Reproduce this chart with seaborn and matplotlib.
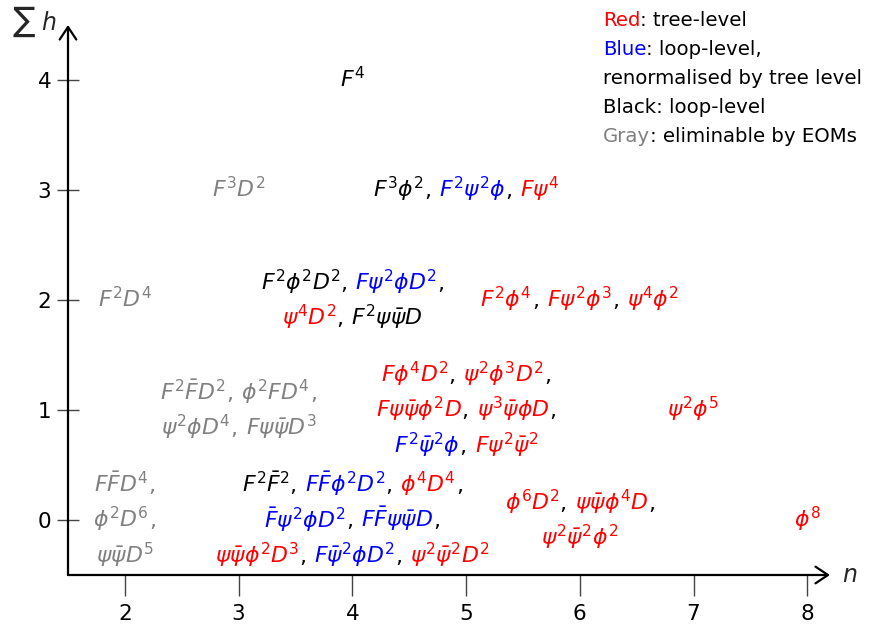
import matplotlib
matplotlib.use('Agg')
import matplotlib.pyplot as plt
import matplotlib.transforms as mtransforms
import seaborn as sns

# axis ticks
n_ticks = [2, 3, 4, 5, 6, 7, 8]
h_ticks = [0, 1, 2, 3, 4]

# grid position (n, sum h) of each group of operators
op_n = [4, 3, 5, 2, 4, 6, 3, 5, 7, 2, 4, 6, 8]
op_h = [4, 3, 3, 2, 2, 2, 1, 1, 1, 0, 0, 0, 0]

# operators of each group, line by line: (tex, class)
# r = tree-level, b = loop-level renormalised by tree level,
# k = loop-level, g = eliminable by EOMs
op_lines = [
    [[(r'F^4', 'k')]],
    [[(r'F^3D^2', 'g')]],
    [[(r'F^3\phi^2', 'k'), (r'F^2\psi^2\phi', 'b'), (r'F\psi^4', 'r')]],
    [[(r'F^2D^4', 'g')]],
    [[(r'F^2\phi^2D^2', 'k'), (r'F\psi^2\phi D^2', 'b')],
     [(r'\psi^4D^2', 'r'), (r'F^2\psi\bar{\psi}D', 'k')]],
    [[(r'F^2\phi^4', 'r'), (r'F\psi^2\phi^3', 'r'), (r'\psi^4\phi^2', 'r')]],
    [[(r'F^2\bar{F}D^2', 'g'), (r'\phi^2FD^4', 'g')],
     [(r'\psi^2\phi D^4', 'g'), (r'F\psi\bar{\psi}D^3', 'g')]],
    [[(r'F\phi^4D^2', 'r'), (r'\psi^2\phi^3D^2', 'r')],
     [(r'F\psi\bar{\psi}\phi^2D', 'r'), (r'\psi^3\bar{\psi}\phi D', 'r')],
     [(r'F^2\bar{\psi}^2\phi', 'b'), (r'F\psi^2\bar{\psi}^2', 'r')]],
    [[(r'\psi^2\phi^5', 'r')]],
    [[(r'F\bar{F}D^4', 'g')], [(r'\phi^2D^6', 'g')], [(r'\psi\bar{\psi}D^5', 'g')]],
    [[(r'F^2\bar{F}^2', 'k'), (r'F\bar{F}\phi^2D^2', 'b'), (r'\phi^4D^4', 'r')],
     [(r'\bar{F}\psi^2\phi D^2', 'b'), (r'F\bar{F}\psi\bar{\psi}D', 'b')],
     [(r'\psi\bar{\psi}\phi^2D^3', 'r'), (r'F\bar{\psi}^2\phi D^2', 'b'), (r'\psi^2\bar{\psi}^2D^2', 'r')]],
    [[(r'\phi^6D^2', 'r'), (r'\psi\bar{\psi}\phi^4D', 'r')],
     [(r'\psi^2\bar{\psi}^2\phi^2', 'r')]],
    [[(r'\phi^8', 'r')]],
]

legend_lines = [
    [('Red', 'r'), (': tree-level', 'k')],
    [('Blue', 'b'), (': loop-level,', 'k')],
    [('renormalised by tree level', 'k')],
    [('Black: loop-level', 'k')],
    [('Gray', 'g'), (': eliminable by EOMs', 'k')],
]

palette = {'r': '#ff0000', 'b': '#0000ff', 'k': '#000000', 'g': '#808080'}

W, H, DPI = 876, 628, 100
FS_MATH = 15.8
FS_LEGEND = 14.2
LINE_STEP = 0.322   # data units between lines of one group
BASE_DROP = 0.068   # baseline below the visual centre
COMMA_GAP = 8       # px after each comma

sns.set_theme(style='white')
plt.rcParams['font.family'] = ['DejaVu Sans']
plt.rcParams['mathtext.fontset'] = 'dejavusans'

fig = plt.figure(figsize=(W / DPI, H / DPI), dpi=DPI)
ax = fig.add_axes([68 / W, 53 / H, (830 - 68) / W, (575 - 25) / H])
ax.set_xlim(1.5, 8.2)
ax.set_ylim(-0.5, 4.5)
for s in ax.spines.values():
    s.set_visible(False)

ax.set_xticks(n_ticks)
ax.set_yticks(h_ticks)
ax.set_xticklabels([str(v) for v in n_ticks])
ax.set_yticklabels([str(v) for v in h_ticks])
ax.tick_params(axis='x', direction='out', length=15, width=1, color='#444444',
               pad=6, labelsize=15.5, labelcolor='black', bottom=True)
ax.tick_params(axis='y', direction='inout', length=16, width=1, color='#444444',
               pad=4, labelsize=15.5, labelcolor='black', left=True)

arrow = dict(arrowstyle='->,head_length=0.45,head_width=0.3', lw=1.6, color='black',
             shrinkA=0, shrinkB=0, mutation_scale=20)
ax.annotate('', xy=(1, 0), xytext=(0, 0), xycoords='axes fraction', arrowprops=arrow)
ax.annotate('', xy=(0, 1), xytext=(0, 0), xycoords='axes fraction', arrowprops=arrow)

ax.text(1.0, 0, r'$n$', transform=ax.transAxes + mtransforms.ScaledTranslation(
    12 / DPI, 0, fig.dpi_scale_trans), fontsize=17, va='center', ha='left')
fig.text(36 / W, 1 - 31 / H, r'$\sum$', fontsize=17, ha='right', va='baseline')
fig.text(41 / W, 1 - 30 / H, r'$h$', fontsize=17, ha='left', va='baseline')

renderer = fig.canvas.get_renderer()


def draw_pieces(x, y, pieces, transform, fs, align='center'):
    texts, widths, gaps = [], [], []
    for s, c in pieces:
        t = ax.text(x, y, s, color=palette[c], fontsize=fs, ha='left', va='baseline',
                    transform=transform, clip_on=False)
        texts.append(t)
        widths.append(t.get_window_extent(renderer).width)
        gaps.append(COMMA_GAP if s == ',' else 0)
    total = sum(widths) + sum(gaps[:-1])
    off = -total / 2 if align == 'center' else 0
    for t, w, g in zip(texts, widths, gaps):
        t.set_transform(transform + mtransforms.ScaledTranslation(off / DPI, 0, fig.dpi_scale_trans))
        off += w + g


for n, h, lines in zip(op_n, op_h, op_lines):
    all_gray = all(c == 'g' for line in lines for _, c in line)
    comma_c = 'g' if all_gray else 'k'
    nl = len(lines)
    for i, line in enumerate(lines):
        pieces = []
        for j, (tex, c) in enumerate(line):
            pieces.append(('$' + tex + '$', c))
            if j < len(line) - 1 or i < nl - 1:
                pieces.append((',', comma_c))
        y = h + (nl - 1) / 2 * LINE_STEP - i * LINE_STEP - BASE_DROP
        draw_pieces(n, y, pieces, ax.transData, FS_MATH)

for i, line in enumerate(legend_lines):
    draw_pieces(603 / W, 1 - (26 + 29 * i) / H, line, fig.transFigure, FS_LEGEND, align='left')

fig.savefig('out.png', dpi=DPI)
